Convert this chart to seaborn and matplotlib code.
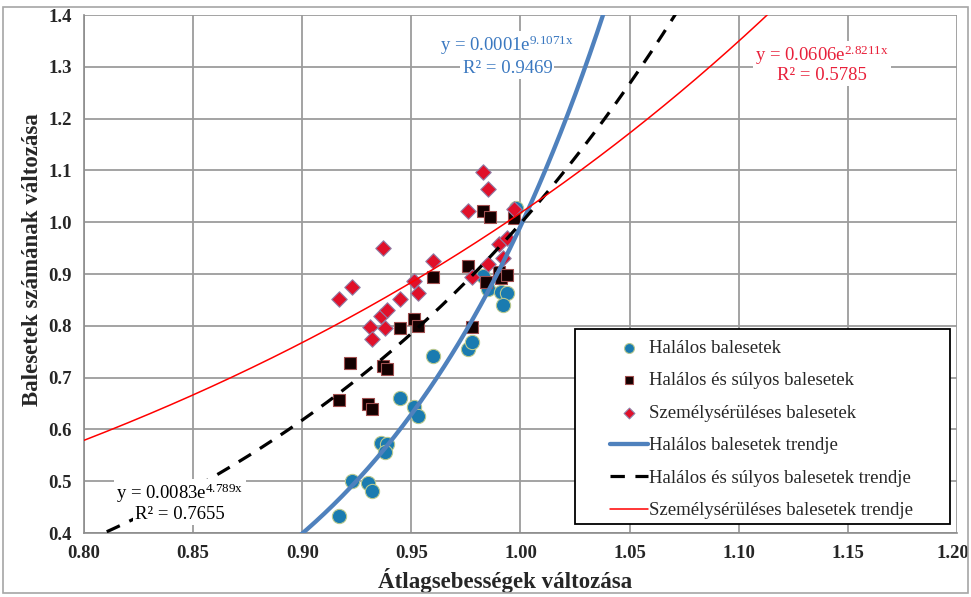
import numpy as np
import pandas as pd
import matplotlib
matplotlib.use("Agg")
import matplotlib.pyplot as plt
import matplotlib.transforms as mtransforms
from matplotlib.patches import Rectangle
import seaborn as sns

# Halálos balesetek
hal_x = [0.917, 0.923, 0.930, 0.932, 0.936, 0.939, 0.938, 0.945, 0.951, 0.953,
         0.960, 0.976, 0.978, 0.983, 0.985, 0.991, 0.994, 0.992, 0.998]
hal_y = [0.433, 0.501, 0.497, 0.482, 0.574, 0.572, 0.557, 0.661, 0.644, 0.626,
         0.742, 0.755, 0.769, 0.896, 0.871, 0.865, 0.863, 0.841, 1.028]

# Halálos és súlyos balesetek
sul_x = [0.917, 0.922, 0.930, 0.932, 0.937, 0.939, 0.945, 0.951, 0.953, 0.960,
         0.976, 0.978, 0.983, 0.986, 0.997, 0.984, 0.990, 0.991, 0.994]
sul_y = [0.657, 0.729, 0.649, 0.640, 0.722, 0.716, 0.795, 0.813, 0.800, 0.895,
         0.915, 0.798, 1.021, 1.010, 1.008, 0.884, 0.904, 0.893, 0.898]

# Személysérüléses balesetek
szem_x = [0.917, 0.923, 0.931, 0.932, 0.936, 0.937, 0.938, 0.939, 0.945, 0.951,
          0.953, 0.960, 0.976, 0.978, 0.983, 0.985, 0.985, 0.990, 0.992, 0.994, 0.997]
szem_y = [0.851, 0.874, 0.797, 0.774, 0.818, 0.950, 0.795, 0.831, 0.852, 0.887,
          0.864, 0.926, 1.021, 0.894, 1.097, 1.065, 0.920, 0.958, 0.931, 0.970, 1.026]

# Exponential trend lines y = a * exp(b * x)
trend_names = ["Halálos balesetek trendje",
               "Halálos és súlyos balesetek trendje",
               "Személysérüléses balesetek trendje"]
trend_a = [0.000110, 0.0083, 0.0606]
trend_b = [9.1071, 4.789, 2.8211]
trend_r2 = [0.9469, 0.7655, 0.5785]

x_ticks = [0.80, 0.85, 0.90, 0.95, 1.00, 1.05, 1.10, 1.15, 1.20]
y_ticks = [0.4, 0.5, 0.6, 0.7, 0.8, 0.9, 1.0, 1.1, 1.2, 1.3, 1.4]

sns.set_style("white")
plt.rcParams["font.family"] = ["Liberation Serif", "DejaVu Serif"]
plt.rcParams["mathtext.fontset"] = "custom"
plt.rcParams["mathtext.rm"] = "Liberation Serif"
plt.rcParams["mathtext.it"] = "Liberation Serif:italic"

fig = plt.figure(figsize=(9.71, 5.97), dpi=100)
ax = fig.add_axes([84 / 971, 1 - 533 / 597, (957 - 84) / 971, (533 - 15) / 597])

# outer chart border
fig.patches.append(Rectangle((3 / 971, 4 / 597), 965 / 971, 586 / 597,
                             transform=fig.transFigure, fill=False,
                             edgecolor="#a6a6a6", linewidth=1.2))

grid_c = "#9c9c9c"
ax.set_xlim(0.80, 1.20)
ax.set_ylim(0.4, 1.4)
ax.set_xticks(x_ticks)
ax.set_yticks(y_ticks)
ax.set_xticklabels([f"{v:.2f}" for v in x_ticks])
ax.set_yticklabels([f"{v:.1f}" for v in y_ticks])
ax.grid(True, color=grid_c, linewidth=1.3)
ax.set_axisbelow(True)
for s in ["top", "right"]:
    ax.spines[s].set_visible(False)
for s in ["left", "bottom"]:
    ax.spines[s].set_color("#8c8c8c")
    ax.spines[s].set_linewidth(1.2)
ax.tick_params(axis="both", which="both", direction="out", length=6,
               color="#8c8c8c", width=1.2, labelsize=13.5, pad=3)
for lab in ax.get_xticklabels() + ax.get_yticklabels():
    lab.set_fontweight("bold")
# keep the last x tick label inside the figure edge
last = ax.get_xticklabels()[-1]
last.set_transform(last.get_transform()
                   + mtransforms.ScaledTranslation(-4 / 100, 0, fig.dpi_scale_trans))

xs = np.linspace(0.80, 1.20, 600)
line_styles = [
    dict(color="#4f81bd", linewidth=3.1, linestyle="-"),
    dict(color="black", linewidth=2.3, linestyle=(0, (4.5, 3.3))),
    dict(color="#ff0000", linewidth=1.1, linestyle="-"),
]

# Scatter series
sns.scatterplot(x=hal_x, y=hal_y, ax=ax, marker="o", s=105, color="#1a7bb0",
                edgecolor="#b8c890", linewidth=0.8, label="Halálos balesetek", zorder=3)
sns.scatterplot(x=sul_x, y=sul_y, ax=ax, marker="s", s=76, color="#140000",
                edgecolor="#a05050", linewidth=0.8,
                label="Halálos és súlyos balesetek", zorder=4)
sns.scatterplot(x=szem_x, y=szem_y, ax=ax, marker="D", s=62, color="#e0102a",
                edgecolor="#9080a8", linewidth=0.8,
                label="Személysérüléses balesetek", zorder=5)

# Trend curves
for name, a, b, st in zip(trend_names, trend_a, trend_b, line_styles):
    df = pd.DataFrame({"x": xs, "y": a * np.exp(b * xs)})
    sns.lineplot(data=df, x="x", y="y", ax=ax, label=name, zorder=6, **st)

# Equation labels
label_pos = [(0.994, 1.342, 1.2975, "#3a78c0"),
             (0.844, 0.477, 0.435, "black"),
             (1.138, 1.323, 1.284, "#e8203a")]
for a, b, r2, (tx, ty1, ty2, c) in zip(trend_a, trend_b, trend_r2, label_pos):
    bbox = dict(facecolor="white", edgecolor="none", pad=1.5)
    ax.text(tx, ty1, f"y = {a:.4f}e" + r"$^{\mathrm{" + f"{b:g}x" + r"}}$",
            color=c, fontsize=13.5, ha="center", va="center", bbox=bbox, zorder=7)
    ax.text(tx, ty2, f"R² = {r2:.4f}", color=c, fontsize=13.5,
            ha="center", va="center", bbox=bbox, zorder=7)

ax.set_xlabel("Átlagsebességek változása", fontsize=16.5, fontweight="bold")
ax.set_ylabel("Balesetek számának változása", fontsize=16.5, fontweight="bold")
ax.xaxis.set_label_coords((505 - 84) / 873, -(568 - 533) / 518)
ax.yaxis.set_label_coords(-(84 - 43) / 873, (533 - 260) / 518)

# Legend box
lx0, lx1 = (575 - 84) / 873, (950 - 84) / 873
ly0, ly1 = (533 - 524) / 518, (533 - 329) / 518
ax.add_patch(Rectangle((lx0, ly0), lx1 - lx0, ly1 - ly0, transform=ax.transAxes,
                       facecolor="white", edgecolor="black", linewidth=1.3,
                       zorder=9, clip_on=False))
handles, labels = ax.get_legend_handles_labels()
leg = ax.legend(handles, labels, loc="center left",
                bbox_to_anchor=((610 - 84) / 873, (533 - 429.5) / 518),
                fontsize=13.5, frameon=False, markerscale=0.7, handlelength=2.0,
                handletextpad=0.1, labelspacing=0.82, borderpad=0, borderaxespad=0)
leg.set_zorder(10)

fig.savefig("out.png", dpi=100)
